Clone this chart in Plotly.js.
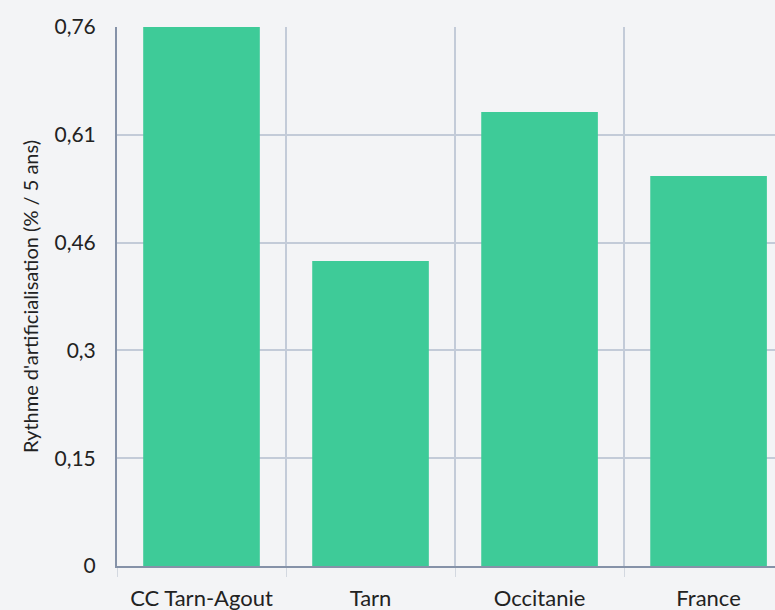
<!DOCTYPE html>
<html><head><meta charset="utf-8">
<script src="https://cdn.plot.ly/plotly-3.0.1.min.js"></script>
<style>html,body{margin:0;padding:0;background:#f3f4f6;overflow:hidden}</style>
</head><body><div id="chart" style="width:775px;height:610px"></div>
<script>
const categories = ['CC Tarn-Agout', 'Tarn', 'Occitanie', 'France'];
const values = [0.76, 0.43, 0.64, 0.55];
const tickVals = [0, 0.152, 0.304, 0.456, 0.608, 0.76];
const tickText = ['0', '0,15', '0,3', '0,46', '0,61', '0,76'];
const yTitle = "Rythme d'artificialisation (% / 5 ans)";

const font = 'Lato, "Open Sans", sans-serif';
Plotly.newPlot('chart', [{
  type: 'bar', x: categories, y: values, width: 0.69,
  marker: {color: '#3ecb98', line: {width: 0}},
  hoverinfo: 'x+y'
}], {
  width: 775, height: 610,
  margin: {l: 117, r: 0, t: 27, b: 44},
  paper_bgcolor: '#f3f4f6', plot_bgcolor: '#f3f4f6',
  font: {family: font, size: 21, color: '#222'},
  showlegend: false,
  xaxis: {
    type: 'category', range: [-0.5, 3.393],
    tickson: 'boundaries', ticks: 'outside', ticklen: 9, tickcolor: '#d3d8e0',
    showgrid: true, gridcolor: '#c3cbd8', gridwidth: 1.5,
    showline: true, linecolor: '#8592a8', linewidth: 2,
    ticklabelstandoff: 12,
    tickfont: {family: font, size: 22, color: '#222'}
  },
  yaxis: {
    range: [0, 0.76], tickmode: 'array', tickvals: tickVals, ticktext: tickText,
    showgrid: true, gridcolor: '#c3cbd8', gridwidth: 1.5, zeroline: false,
    showline: true, linecolor: '#8592a8', linewidth: 2,
    ticks: '', ticklabelstandoff: 15,
    tickfont: {family: font, size: 21, color: '#222'},
    title: {text: yTitle, font: {family: font, size: 20, color: '#222'}, standoff: 10}
  }
}, {displayModeBar: false, staticPlot: false});
</script></body></html>
